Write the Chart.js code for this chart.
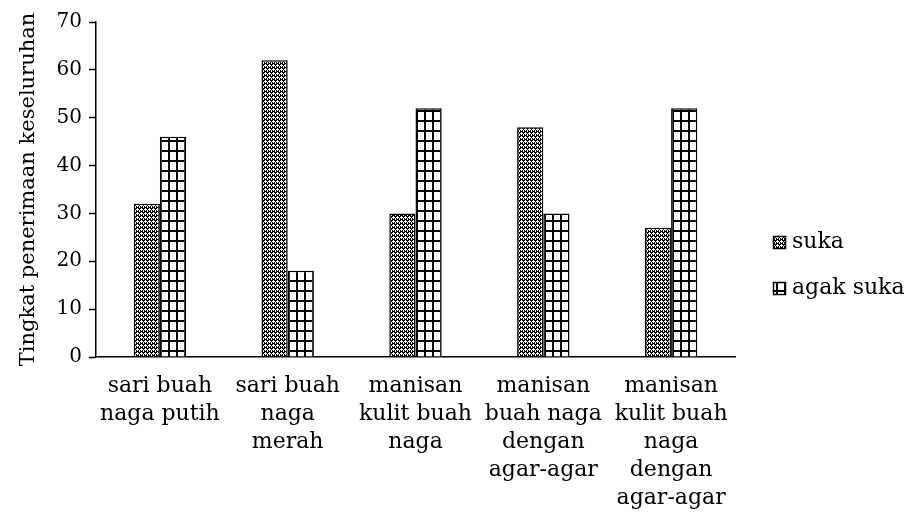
<!DOCTYPE html>
<html>
<head>
<meta charset="utf-8">
<script src="https://cdn.jsdelivr.net/npm/chart.js@4"></script>
<style>
html,body{margin:0;padding:0;background:#fff;}
#wrap{width:909px;height:519px;position:relative;}
</style>
</head>
<body>
<div id="wrap"><canvas id="c"></canvas></div>
<script>
const categories = [
  ["sari buah", "naga putih"],
  ["sari buah", "naga", "merah"],
  ["manisan", "kulit buah", "naga"],
  ["manisan", "buah naga", "dengan", "agar-agar"],
  ["manisan", "kulit buah", "naga", "dengan", "agar-agar"]
];
const seriesNames = ["suka", "agak suka"];
const sukaValues = [32, 62, 30, 48, 27];
const agakSukaValues = [46, 18, 52, 30, 52];
const yAxisTitle = "Tingkat penerimaan keseluruhan";

const FONT = "'DejaVu Serif', serif";
const canvas = document.getElementById('c');
const ctx0 = canvas.getContext('2d');

function makeDots() {
  const t = document.createElement('canvas');
  t.width = 4; t.height = 4;
  const c = t.getContext('2d');
  c.fillStyle = '#000'; c.fillRect(0,0,4,4);
  c.fillStyle = '#fff';
  c.fillRect(1,0,1,3);
  c.fillRect(0,1,3,1);
  c.fillRect(3,3,1,1);
  c.fillRect(3,2,1,1);
  return ctx0.createPattern(t, 'repeat');
}
function makeGrid() {
  const t = document.createElement('canvas');
  t.width = 8; t.height = 10;
  const c = t.getContext('2d');
  c.fillStyle = '#fff'; c.fillRect(0,0,8,10);
  c.fillStyle = '#000';
  c.fillRect(0,0,2,10);
  c.fillRect(0,0,8,2);
  return ctx0.createPattern(t, 'repeat');
}
const patterns = [makeDots(), makeGrid()];

const legendPlugin = {
  id: 'customLegend',
  afterDraw(chart) {
    const ctx = chart.ctx;
    const x = chart.chartArea.right + 38;
    const ys = [242, 288];
    ctx.save();
    chart.data.datasets.forEach((ds, i) => {
      const y = ys[i];
      ctx.fillStyle = ds.backgroundColor;
      ctx.fillRect(x, y - 6, 13, 13);
      ctx.strokeStyle = '#000';
      ctx.lineWidth = 1.5;
      ctx.strokeRect(x + 0.5, y - 5.5, 12, 12);
      ctx.fillStyle = '#000';
      ctx.font = "22px " + FONT;
      ctx.textBaseline = 'middle';
      ctx.textAlign = 'left';
      ctx.fillText(ds.label, x + 19, y);
    });
    ctx.restore();
  }
};

new Chart(canvas, {
  type: 'bar',
  data: {
    labels: categories,
    datasets: [
      { label: seriesNames[0], data: sukaValues, backgroundColor: patterns[0], borderColor: '#000', borderWidth: 1.5 },
      { label: seriesNames[1], data: agakSukaValues, backgroundColor: patterns[1], borderColor: '#000', borderWidth: 1.5 }
    ]
  },
  options: {
    responsive: true,
    maintainAspectRatio: false,
    animation: false,
    layout: { padding: { top: 22, right: 174, left: 0, bottom: 0 } },
    datasets: { bar: { categoryPercentage: 0.41, barPercentage: 1.0 } },
    plugins: { legend: { display: false }, tooltip: { enabled: false } },
    scales: {
      x: {
        grid: { display: false },
        border: { display: true, color: '#000', width: 1.5 },
        ticks: { color: '#000', font: { family: FONT, size: 22, lineHeight: 1.28 }, maxRotation: 0, autoSkip: false, padding: 7 },
        afterFit(s) { s.height = 162; }
      },
      y: {
        min: 0, max: 70,
        grid: { display: true, drawOnChartArea: false, drawTicks: true, tickLength: 7, tickColor: '#000', tickWidth: 1.5 },
        border: { display: true, color: '#000', width: 1.5 },
        ticks: { stepSize: 10, color: '#000', font: { family: FONT, size: 20 }, padding: 7 },
        title: { display: true, text: yAxisTitle, color: '#000', font: { family: FONT, size: 21 }, padding: { top: 16, bottom: 0 } },
        afterFit(s) { s.width = 96; }
      }
    }
  },
  plugins: [legendPlugin]
});
</script>
</body>
</html>
